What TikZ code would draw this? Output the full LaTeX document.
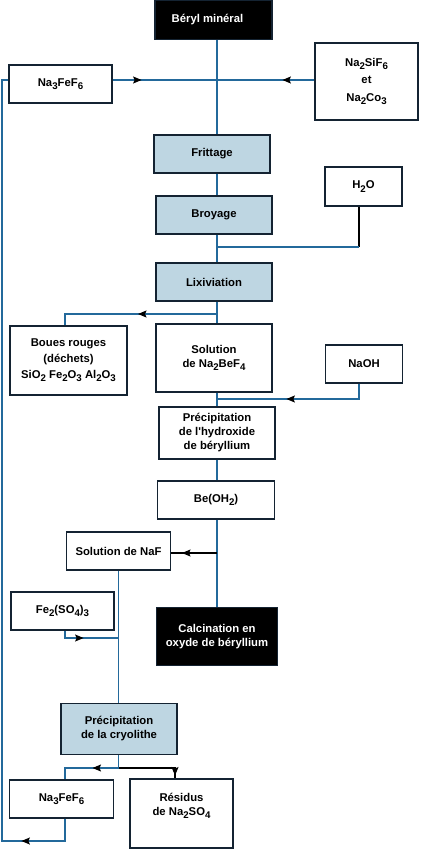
\documentclass[tikz,border=0pt]{standalone}
\usepackage{fontspec}
\setmainfont{Liberation Sans}[Ligatures=TeXOff]
\usetikzlibrary{arrows.meta,decorations.markings}
\definecolor{flow}{RGB}{35,105,155}
\definecolor{boxline}{RGB}{20,35,50}
\definecolor{procfill}{RGB}{190,214,226}
\newcommand\sbs[1]{\raisebox{-3.2pt}{\fontsize{9.7}{9.7}\selectfont #1}}
\tikzset{
  box/.style={draw=boxline, line width=1.2pt, fill=white, inner sep=0pt, align=center,
    font=\fontsize{11.3}{14}\selectfont\bfseries, text=black},
  proc/.style={box, fill=procfill},
  darkbox/.style={box, fill=black, text=white},
  flowline/.style={draw=flow, line width=1.1pt},
  blackline/.style={draw=black, line width=1.1pt},
  arrowat/.style={postaction={decorate}, decoration={markings,
    mark=at position #1 with {\arrow[black]{Stealth[length=8.5pt,width=7pt,inset=1.5pt]}}}},
}
\begin{document}
\begin{tikzpicture}[x=1pt,y=-1pt]
\useasboundingbox (0,0) rectangle (436,850);
% nodes
\node[darkbox, minimum width=117pt, minimum height=39pt] (beryl) at (213.5,20) {Béryl minéral\rule{12pt}{0pt}};
\node[box, minimum width=103pt, minimum height=38pt] (na3top) at (60.5,84) {Na\sbs{3}FeF\sbs{6}};
\node[box, minimum width=103pt, minimum height=77pt, font=\fontsize{11.3}{17.5}\selectfont\bfseries] (nasif) at (366.5,81.5) {Na\sbs{2}SiF\sbs{6}\\et\\Na\sbs{2}Co\sbs{3}};
\node[proc, minimum width=116pt, minimum height=38pt] (fritt) at (212,154) {Frittage};
\node[proc, minimum width=116pt, minimum height=38pt] (broy) at (214,215) {Broyage};
\node[box, minimum width=77pt, minimum height=39pt] (h2o) at (363.5,186.5) {H\sbs{2}O};
\node[proc, minimum width=116pt, minimum height=38pt] (lix) at (214,282) {Lixiviation};
\node[box, minimum width=117pt, minimum height=69pt, font=\fontsize{11.3}{16}\selectfont\bfseries] (boues) at (68.5,360.5) {Boues rouges\\(déchets)\\SiO\sbs{2} Fe\sbs{2}O\sbs{3} Al\sbs{2}O\sbs{3}};
\node[box, minimum width=116pt, minimum height=68pt] (sol) at (214,358) {Solution\\de Na\sbs{2}BeF\sbs{4}};
\node[box, minimum width=77pt, minimum height=38pt] (naoh) at (364,364) {NaOH};
\node[box, minimum width=116pt, minimum height=52pt] (prech) at (217,433) {Précipitation\\de l'hydroxide\\de béryllium};
\node[box, minimum width=117pt, minimum height=38pt] (beoh) at (216,500) {Be(OH\sbs{2})};
\node[box, minimum width=104pt, minimum height=38pt] (naf) at (118.5,551) {Solution de NaF};
\node[darkbox, minimum width=121pt, minimum height=58pt] (calc) at (217,636.5) {Calcination en\\oxyde de béryllium};
\node[box, minimum width=103pt, minimum height=38pt] (fe) at (62.5,611) {Fe\sbs{2}(SO\sbs{4})\sbs{3}};
\node[proc, minimum width=116pt, minimum height=51pt] (cryo) at (119,729) {Précipitation\\de la cryolithe};
\node[box, minimum width=104pt, minimum height=38pt] (na3b) at (61.5,799) {Na\sbs{3}FeF\sbs{6}};
\node[box, minimum width=103pt, minimum height=69pt] (res) at (181.5,813.5) {Résidus\\de Na\sbs{2}SO\sbs{4}\\\strut};
% junction coordinates
\coordinate (ax) at (217,0);
\coordinate (h2oj) at (217,247);
\coordinate (bj) at (217,314);
\coordinate (nj) at (217,399);
\coordinate (fj) at (217,553);
\coordinate (fej) at (118.5,638);
\coordinate (cj) at (118.5,768);
\coordinate (lb) at (2,841);
\coordinate (lt) at (2,80);
% connectors
\draw[flowline] (beryl.south -| ax) -- (fritt.north -| ax);
\draw[flowline, arrowat=29pt] ([yshift=4pt]na3top.east) -- ([yshift=4pt]na3top.east -| ax);
\draw[flowline, arrowat=32pt] ([yshift=1.5pt]nasif.west) -- ([yshift=1.5pt]nasif.west -| ax);
\draw[flowline] (fritt.south -| ax) -- (broy.north -| ax);
\draw[flowline] (broy.south -| ax) -- (lix.north -| ax);
\draw[blackline] ([xshift=-4.5pt]h2o.south) -- ([xshift=-4.5pt]h2o.south |- h2oj);
\draw[flowline] ([xshift=-4.5pt]h2o.south |- h2oj) -- (h2oj);
\draw[flowline] (lix.south -| ax) -- (sol.north -| ax);
\draw[flowline, arrowat=79pt] (bj) -| ([xshift=-3.5pt]boues.north);
\draw[flowline] (sol.south -| ax) -- (prech.north -| ax);
\draw[flowline, arrowat=88pt] ([xshift=-5pt]naoh.south) |- (nj);
\draw[flowline] (prech.south -| ax) -- (beoh.north -| ax);
\draw[flowline] (beoh.south -| ax) -- (calc.north -| ax);
\draw[blackline, arrowat=35pt] (fj) -- (fj -| naf.east);
\draw[flowline] (naf.south) -- (naf.south |- cryo.north);
\draw[flowline, arrowat=26pt] ([xshift=2.5pt]fe.south) |- (fej);
\draw[flowline] (cryo.south -| cj) -- (cj);
\draw[flowline, arrowat=26pt] (cj) -| ([xshift=3.5pt]na3b.north);
\draw[blackline, arrowat=64pt] (cj) -| ([xshift=-6.5pt]res.north);
\draw[flowline, arrowat=66pt] ([xshift=3.5pt]na3b.south) |- (lb) -- (lt) -- ([yshift=4pt]na3top.west);
\end{tikzpicture}
\end{document}
